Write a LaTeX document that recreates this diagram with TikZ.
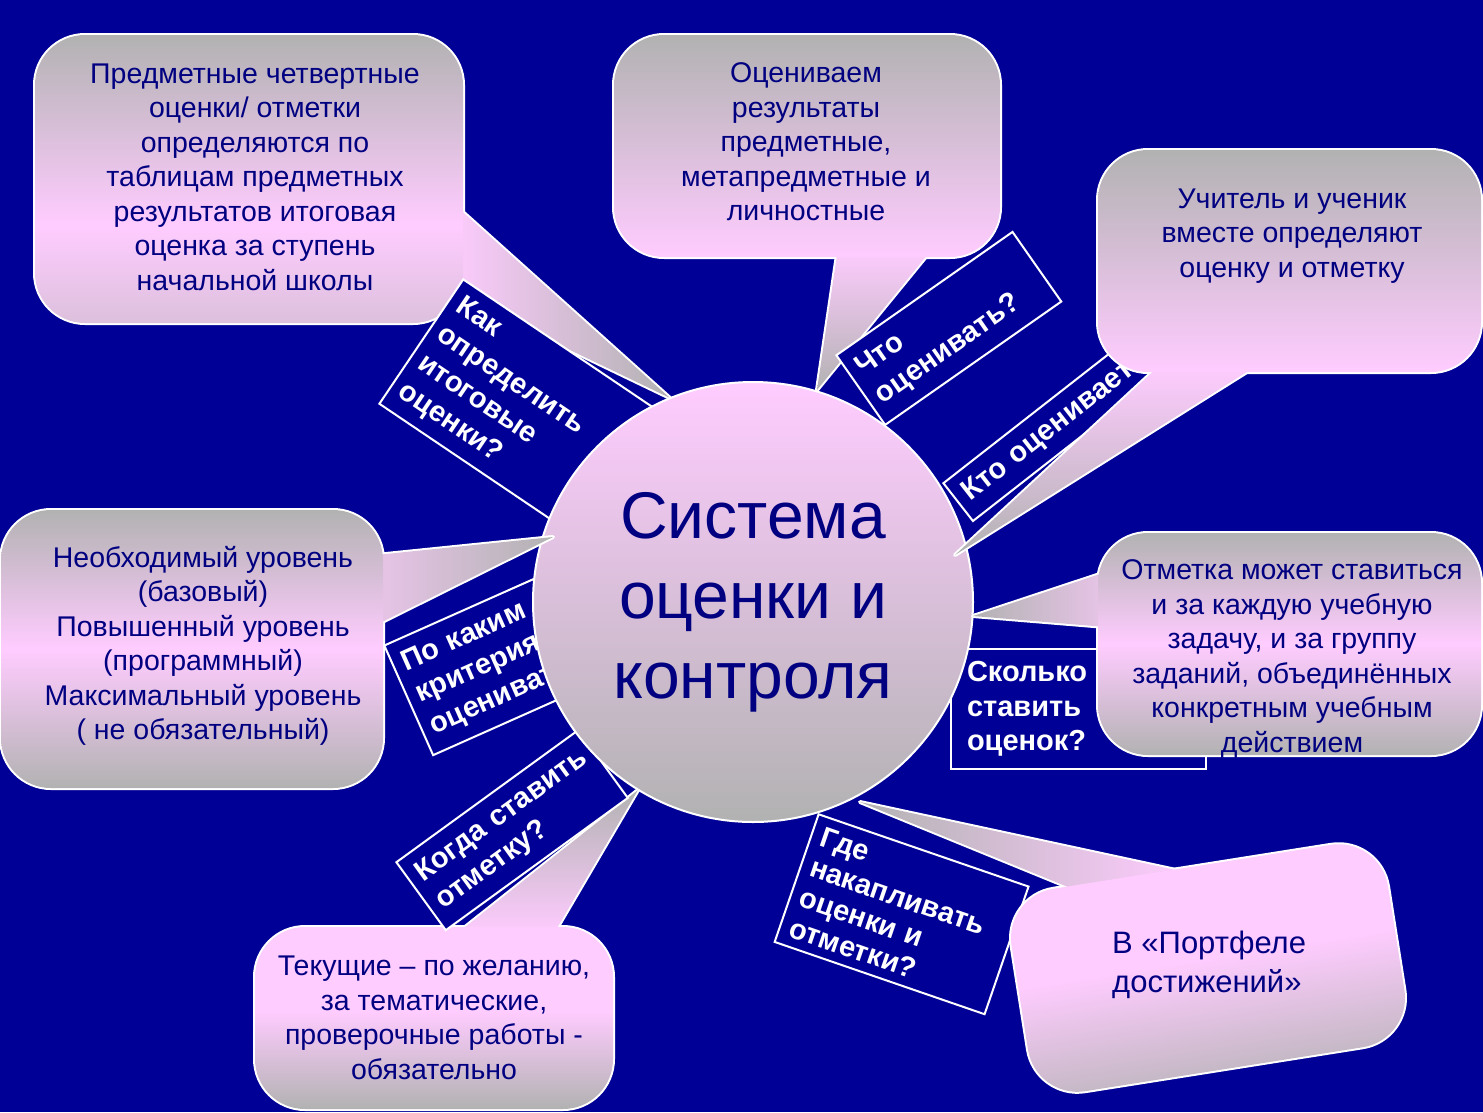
\documentclass[tikz,border=0pt]{standalone}
\usepackage{fontspec}
\setmainfont{Liberation Sans}
\definecolor{bg}{RGB}{0,0,150}
\definecolor{pk}{RGB}{255,204,255}
\definecolor{gy}{RGB}{178,178,178}
\definecolor{tx}{RGB}{0,0,128}
\colorlet{pkgy}{pk!55!gy}
\pgfdeclareverticalshading{shA}{100bp}{color(0bp)=(pkgy); color(25bp)=(pkgy); color(42bp)=(pk); color(75bp)=(gy); color(100bp)=(gy)}
\pgfdeclareverticalshading{shF}{100bp}{color(0bp)=(gy); color(25bp)=(gy); color(52bp)=(pk); color(75bp)=(pk); color(100bp)=(pk)}
\tikzset{
 qbox/.style={draw=white, line width=2pt, fill=bg, text=white,
   font=\bfseries\fontsize{29pt}{34.5pt}\selectfont, align=left,
   inner xsep=10pt, inner ysep=4pt, anchor=north west},
 ctext/.style={text=tx, font=\fontsize{28.5pt}{34.5pt}\selectfont, align=center, inner sep=0pt},
}
\newcommand\mycallout[4]{%
 \draw[white,line width=4pt,line join=round] #2;
 \draw[white,line width=4pt,rounded corners=50pt] #1;
 \shade[#4] #2;
 \shade[rounded corners=50pt,#3] #1;
}
\begin{document}
\begin{tikzpicture}[x=1pt,y=-1pt]
\useasboundingbox (0,0) rectangle (1483,1112);
\fill[bg] (0,0) rectangle (1483,1112);

% callouts lying under the question boxes
\mycallout{(35,35) rectangle (463,323)}{(455,205) -- (670,398) -- (445,290) -- cycle}{shading=shA}{left color=pk, right color=gy}
\mycallout{(614,35) rectangle (1000,257)}{(838,248) -- (817,390) -- (933,248) -- cycle}{top color=gy, bottom color=pk}{top color=pk, bottom color=gy}
\mycallout{(255,927) rectangle (613,1109)}{(455,935) -- (638,790) -- (553,935) -- cycle}{shading=shF}{top color=gy, bottom color=pk}

% question boxes
\node[qbox, rotate=-34, minimum width=260pt, minimum height=150pt, text width=240pt] (q1) at (463,278)
  {\mbox{Как}\\\mbox{определить}\\\mbox{итоговые}\\\mbox{оценки?}};
\node[qbox, rotate=35, minimum width=215pt, minimum height=85pt, text width=195pt] (q2) at (835,355)
  {\mbox{Что}\\\mbox{оценивать?}};
\node[qbox, rotate=38, minimum width=240pt, minimum height=48pt, text width=220pt] (q3) at (942,483)
  {\mbox{Кто оценивает?}};
\node[qbox, rotate=24, minimum width=210pt, minimum height=120pt, text width=190pt] (q4) at (383,645)
  {\mbox{По каким}\\\mbox{критерия}\\\mbox{оценивать}};
\node[qbox, rotate=36, minimum width=225pt, minimum height=84pt, text width=205pt] (q5) at (395,862)
  {\mbox{Когда ставить}\\\mbox{отметку?}};
\node[qbox, inner xsep=16pt, minimum width=255pt, minimum height=120pt, text width=223pt] (q6) at (950,648)
  {\mbox{Сколько}\\\mbox{ставить}\\\mbox{оценок?}};
\node[qbox, rotate=-19, minimum width=222pt, minimum height=135pt, text width=202pt,
  font=\bfseries\fontsize{29pt}{32pt}\selectfont] (q7) at (818,813)
  {\mbox{Где}\\\mbox{накапливать}\\\mbox{оценки и}\\\mbox{отметки?}};

% central circle
\node[circle, minimum size=440pt, inner sep=0pt, draw=white, line width=2pt,
  top color=pk, bottom color=gy, text=tx, align=center,
  font=\fontsize{66pt}{80pt}\selectfont] (sys) at (753,602) {Система\\оценки и\\контроля};

% callouts lying over the circle and boxes
\mycallout{(1098,150) rectangle (1481,372)}{(1160,365) -- (955,555) -- (1258,365) -- cycle}{top color=gy, bottom color=pk}{top color=pk, bottom color=gy}
\mycallout{(1,510) rectangle (383,788)}{(376,555) -- (553,537) -- (376,625) -- cycle}{top color=gy, bottom color=gy, middle color=pk}{left color=pk!70!gy, right color=gy}
\mycallout{(1098,533) rectangle (1481,755)}{(1106,572) -- (973,616) -- (1106,627) -- cycle}{top color=gy, bottom color=gy, middle color=pk}{left color=gy, right color=pk!70!gy}
\mycallout{(1003.8,896.6) -- (1380.2,837) -- (1412.2,1039.4) -- (1035.8,1099) -- cycle}{(1190,873) -- (860,802) -- (1090,896) -- cycle}{shading=shF, shading angle=9}{left color=gy, right color=pk}

% callout texts
\node[ctext] (ta) at (255,177) {Предметные четвертные\\оценки/ отметки\\определяются по\\таблицам предметных\\результатов итоговая\\оценка за ступень\\начальной школы};
\node[ctext] (tb) at (806,142) {Оцениваем\\результаты\\предметные,\\метапредметные и\\личностные};
\node[ctext] (tc) at (1292,236) {Учитель и ученик\\вместе определяют\\оценку и отметку};
\node[ctext] (td) at (203,646) {Необходимый уровень\\(базовый)\\Повышенный уровень\\(программный)\\Максимальный уровень\\( не обязательный)};
\node[ctext] (te) at (1292,659) {Отметка может ставиться\\и за каждую учебную\\задачу, и за группу\\заданий, объединённых\\конкретным учебным\\действием};
\node[ctext] (tf) at (434,1018) {Текущие – по желанию,\\за тематические,\\проверочные работы -\\обязательно};
\node[ctext, align=left, anchor=west, font=\fontsize{31pt}{39pt}\selectfont] (tg) at (1112,965) {В «Портфеле\\достижений»};
\end{tikzpicture}
\end{document}
